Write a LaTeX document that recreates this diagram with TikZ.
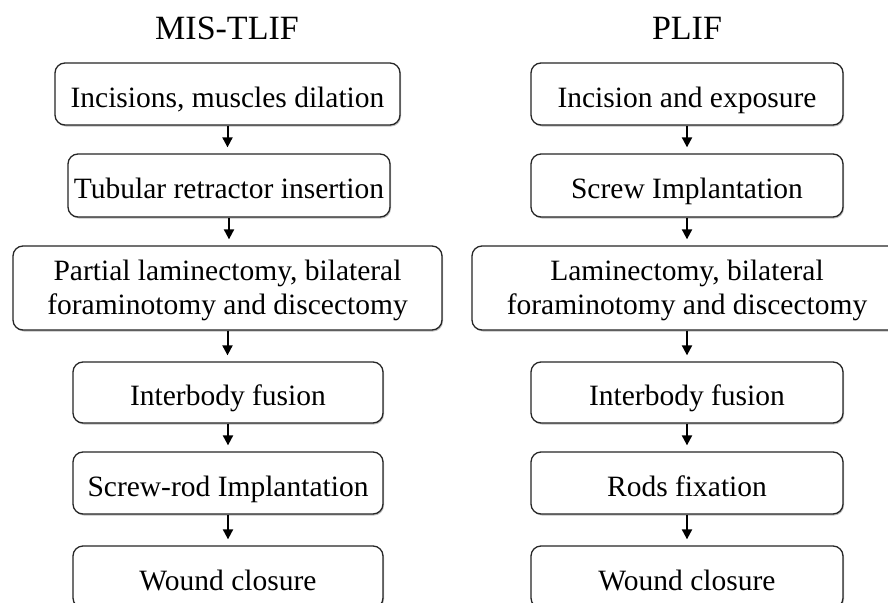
\documentclass[tikz,border=0pt]{standalone}
\usepackage{fontspec}
\setmainfont{Liberation Serif}
\usetikzlibrary{arrows.meta,shadows}
\begin{document}
\begin{tikzpicture}[x=1pt,y=1pt,
  stepbox/.style={draw=black!85, line width=1.3pt, rounded corners=10pt, fill=white,
    align=center, inner sep=0pt, font=\fontsize{29.5}{34}\selectfont,
    drop shadow={shadow xshift=1pt, shadow yshift=-1.5pt, opacity=0.25, fill=black}},
  oneline/.style={stepbox, text height=26pt, text depth=0pt},
  twotext/.style={align=center, inner sep=0pt, font=\fontsize{29.5}{34}\selectfont},
  title/.style={font=\fontsize{34}{40}\selectfont, inner sep=0pt, text height=22pt, text depth=0pt},
  flow/.style={-{Triangle[length=10pt,width=10pt]}, line width=2pt, black, shorten >=6pt}
]
\useasboundingbox (0,0) rectangle (888,-602);
\clip (0,0) rectangle (888,-602);
\fill[white] (0,0) rectangle (888,-602);

% titles
\node[title] (tl) at (227,-28.5) {MIS-TLIF};
\node[title] (tr) at (687,-28.5) {PLIF};

% left column
\node[oneline, minimum width=345pt, minimum height=62pt] (l1) at (227.5,-94) {Incisions, muscles dilation};
\node[oneline, minimum width=322pt, minimum height=63pt] (l2) at (229,-185.5) {Tubular retractor insertion};
\node[stepbox, minimum width=429pt, minimum height=84pt] (l3) at (227.5,-288) {};
\node[twotext] (l3t) at ([yshift=-2.5pt]l3.center) {Partial laminectomy, bilateral\\foraminotomy and discectomy};
\node[oneline, minimum width=310pt, minimum height=61pt] (l4) at (228,-392.5) {Interbody fusion};
\node[oneline, minimum width=310pt, minimum height=62pt] (l5) at (228,-483) {Screw-rod Implantation};
\node[oneline, minimum width=310pt, minimum height=62pt] (l6) at (228,-577) {Wound closure};

% right column
\node[oneline, minimum width=312pt, minimum height=62pt] (r1) at (687,-94) {Incision and exposure};
\node[oneline, minimum width=312pt, minimum height=63pt] (r2) at (687,-185.5) {Screw Implantation};
\node[stepbox, minimum width=430pt, minimum height=84pt] (r3) at (687,-288) {};
\node[twotext] (r3t) at ([yshift=-2.5pt]r3.center) {Laminectomy, bilateral\\foraminotomy and discectomy};
\node[oneline, minimum width=312pt, minimum height=61pt] (r4) at (687,-392.5) {Interbody fusion};
\node[oneline, minimum width=312pt, minimum height=62pt] (r5) at (687,-483) {Rods fixation};
\node[oneline, minimum width=312pt, minimum height=62pt] (r6) at (687,-577) {Wound closure};

% arrows
\foreach \a/\b in {l1/l2,l2/l3,l3/l4,l4/l5,l5/l6,r1/r2,r2/r3,r3/r4,r4/r5,r5/r6}
  \draw[flow] (\a.south) -- (\a.south |- \b.north);
\end{tikzpicture}
\end{document}
